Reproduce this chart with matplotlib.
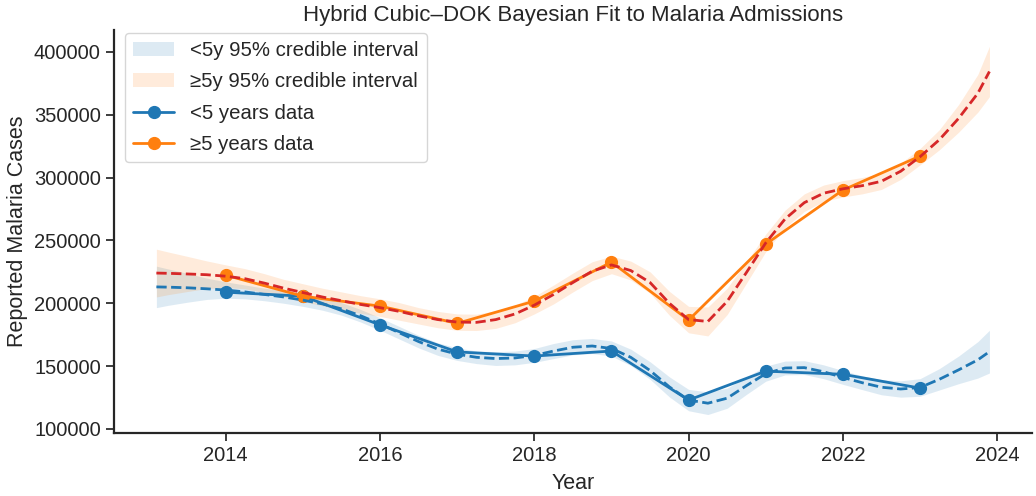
import matplotlib
matplotlib.use("Agg")
import matplotlib.pyplot as plt
import seaborn as sns
import numpy as np

# Observed data
years = [2014, 2015, 2016, 2017, 2018, 2019, 2020, 2021, 2022, 2023]
under5 = [208800, 205600, 182800, 161300, 158000, 162000, 123000, 146000, 143500, 132500]
over5 = [222300, 205600, 197700, 184000, 201700, 232700, 186600, 247000, 290000, 317000]

# Posterior mean fit and 95% CI half-widths
fit_years = [2013.1, 2013.25, 2013.5, 2013.75, 2014.0, 2014.25, 2014.5, 2014.75,
             2015.0, 2015.25, 2015.5, 2015.75, 2016.0, 2016.25, 2016.5, 2016.75,
             2017.0, 2017.25, 2017.5, 2017.75, 2018.0, 2018.25, 2018.5, 2018.75,
             2019.0, 2019.25, 2019.5, 2019.75, 2020.0, 2020.25, 2020.5, 2020.75,
             2021.0, 2021.25, 2021.5, 2021.75, 2022.0, 2022.25, 2022.5, 2022.75,
             2023.0, 2023.25, 2023.5, 2023.75, 2023.9]
fit_under5 = [213000, 212800, 212300, 211500, 210500, 209000, 207000, 205000,
              202500, 199500, 195500, 190000, 183500, 176500, 169500, 163500,
              159500, 157000, 156000, 156500, 158500, 162000, 165000, 166000,
              164000, 157000, 146500, 133500, 123000, 120500, 124500, 134500,
              144000, 148500, 148800, 145500, 141000, 136800, 133200, 131800,
              133000, 139500, 147000, 155000, 161500]
hw_under5 = [16500, 14500, 11500, 8500, 6500, 5500, 5000, 5000,
             5000, 5000, 5000, 5000, 5000, 5000, 5000, 5000,
             5000, 5000, 5500, 5500, 5500, 6000, 6000, 6000,
             6000, 6500, 7000, 8000, 8500, 9000, 8000, 7000,
             6000, 5500, 5500, 5500, 5500, 5500, 6000, 6500,
             7000, 8500, 11000, 14500, 17000]
fit_over5 = [224000, 223800, 223300, 222700, 221500, 219500, 216000, 212000,
             208500, 205000, 202000, 199000, 196500, 193500, 190000, 187000,
             185000, 184800, 187000, 191500, 198500, 207000, 216500, 225500,
             230500, 226000, 216500, 200000, 187000, 185500, 201500, 224500,
             248000, 267000, 280000, 287500, 291000, 293500, 297000, 305000,
             316500, 330000, 347000, 367000, 384300]
hw_over5 = [19000, 17000, 14000, 11000, 9000, 8000, 7500, 7000,
            7000, 7000, 7000, 7000, 7000, 7000, 6500, 6500,
            6500, 6500, 7000, 7000, 7000, 7500, 7500, 7500,
            7000, 7500, 8500, 9500, 10500, 11500, 10500, 8500,
            7000, 7000, 7000, 6500, 6500, 6500, 6500, 6500,
            6500, 8000, 11000, 15000, 20000]

sns.set_theme(style="ticks")
plt.rcParams['font.family'] = ['Liberation Sans', 'DejaVu Sans']

fig = plt.figure(figsize=(10.36, 4.96), dpi=100)
ax = fig.add_axes([0.110, 0.127, 0.886, 0.813])

fx = np.array(fit_years)
fu = np.array(fit_under5); hu = np.array(hw_under5)
fo = np.array(fit_over5); ho = np.array(hw_over5)

b1 = ax.fill_between(fx, fu - hu, fu + hu, color='#1f77b4', alpha=0.15, linewidth=0,
                     label='<5y 95% credible interval')
b2 = ax.fill_between(fx, fo - ho, fo + ho, color='#ff7f0e', alpha=0.15, linewidth=0,
                     label='≥5y 95% credible interval')
l1, = ax.plot(years, under5, '-o', color='#1f77b4', lw=2, ms=8.5, label='<5 years data')
l2, = ax.plot(years, over5, '-o', color='#ff7f0e', lw=2, ms=8.5, label='≥5 years data')
ax.plot(fx, fu, '--', color='#1f77b4', lw=2)
ax.plot(fx, fo, '--', color='#d62728', lw=2)

ax.set_xlim(2012.55, 2024.45)
ax.set_ylim(96800, 417500)
ax.set_xticks([2014, 2016, 2018, 2020, 2022, 2024])
ax.set_yticks([100000, 150000, 200000, 250000, 300000, 350000, 400000])
ax.tick_params(labelsize=14.5, length=6, width=1.25)
for s in ['left', 'bottom']:
    ax.spines[s].set_linewidth(1.6)
    ax.spines[s].set_color('#262626')
sns.despine(ax=ax)

ax.set_xlabel('Year', fontsize=15.5, labelpad=5.5)
ax.set_ylabel('Reported Malaria Cases', fontsize=15.5)
ax.set_title('Hybrid Cubic–DOK Bayesian Fit to Malaria Admissions', fontsize=16)

ax.legend(handles=[b1, b2, l1, l2], loc='upper left', fontsize=14.7, frameon=True,
          labelspacing=0.6, borderaxespad=0.0, bbox_to_anchor=(0.012, 0.992))

fig.savefig('out.png', dpi=100)
